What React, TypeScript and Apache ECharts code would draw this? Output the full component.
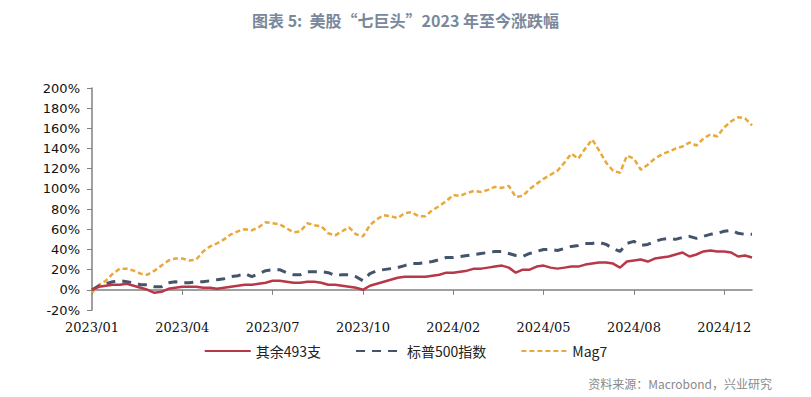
import React, { useEffect, useRef } from "react";
import * as echarts from "echarts";

const tickLabels = ["2023/01", "2023/04", "2023/07", "2023/10", "2024/02", "2024/05", "2024/08", "2024/12"];
const tickStep = 13;

const restValues = [
  0, 3, 4, 5, 5, 6, 4, 2, 0, -3, -2, 1, 2, 3, 3, 3, 2, 2, 1, 2,
  3, 4, 5, 5, 6, 7, 9, 9, 8, 7, 7, 8, 8, 7, 5, 5, 4, 3, 2, 0,
  4, 6, 8, 10, 12, 13, 13, 13, 13, 14, 15, 17, 17, 18, 19, 21, 21, 22, 23, 24,
  22, 17, 20, 20, 23, 24, 22, 21, 22, 23, 23, 25, 26, 27, 27, 26, 22, 28, 29, 30,
  28, 31, 32, 33, 35, 37, 33, 35, 38, 39, 38, 38, 37, 33, 34, 32,
];

const spxValues = [
  0, 4, 6, 8, 9, 8, 7, 5, 5, 3, 3, 7, 8, 7, 7, 8, 8, 9, 10, 11,
  13, 14, 16, 13, 16, 19, 20, 20, 17, 15, 15, 18, 18, 18, 17, 14, 15, 15, 13, 9,
  16, 19, 20, 21, 22, 24, 26, 26, 27, 28, 30, 32, 32, 33, 34, 35, 36, 37, 38, 38,
  36, 34, 33, 36, 38, 40, 40, 39, 41, 43, 44, 46, 46, 47, 45, 41, 38, 46, 48, 44,
  45, 48, 50, 51, 50, 52, 53, 51, 53, 55, 56, 58, 59, 56, 55, 55,
];

const mag7Values = [
  -3, 5, 9, 16, 21, 21, 19, 16, 15, 19, 24, 29, 31, 31, 29, 30, 38, 43, 46, 50,
  55, 58, 60, 59, 62, 67, 66, 65, 61, 57, 58, 66, 64, 63, 56, 54, 58, 62, 55, 53,
  64, 70, 74, 73, 71, 76, 77, 73, 73, 79, 83, 88, 94, 93, 96, 98, 97, 99, 102, 101,
  103, 92, 93, 100, 105, 110, 114, 118, 126, 135, 130, 140, 149, 138, 126, 118, 116, 133, 130, 119,
  124, 130, 134, 137, 140, 142, 146, 143, 150, 154, 152, 161, 167, 171, 170, 163,
];

const seriesNames = ["其余493支", "标普500指数", "Mag7"];
const categories = mag7Values.map((_, i) => String(i));

export default function App() {
  const ref = useRef<HTMLDivElement>(null);
  useEffect(() => {
    document.body.style.margin = "0";
    if (!ref.current) return;
    const chart = echarts.init(ref.current, undefined, { renderer: "svg" });
    const labelFmt = (_v: string, idx: number) =>
      idx % tickStep === 0 ? tickLabels[idx / tickStep] ?? "" : "";
    chart.setOption({
      animation: false,
      backgroundColor: "#ffffff",
      title: [
        {
          text: "图表 5:  美股“七巨头”2023 年至今涨跌幅",
          left: "center",
          top: 7,
          textStyle: {
            fontFamily: "Noto Sans CJK SC",
            fontSize: 16,
            fontWeight: 600,
            color: "#7a889c",
          },
        },
        {
          text: "资料来源：Macrobond，兴业研究",
          right: 34,
          top: 372,
          textStyle: {
            fontFamily: "Noto Sans CJK SC",
            fontSize: 12,
            fontWeight: "normal",
            color: "#8a8a8a",
          },
        },
      ],
      legend: {
        top: 339,
        left: "center",
        itemWidth: 46,
        itemHeight: 8,
        itemGap: 34,
        itemStyle: { opacity: 0 },
        textStyle: { fontFamily: "Noto Sans CJK SC", fontSize: 14, color: "#222" },
        data: seriesNames,
      },
      grid: { left: 92, right: 59, top: 88, bottom: 87, containLabel: false },
      xAxis: [
        {
          type: "category",
          data: categories,
          boundaryGap: false,
          axisLine: { onZero: true, lineStyle: { color: "#808080", width: 1.5 } },
          axisTick: { show: true, interval: tickStep - 1, length: 5, lineStyle: { color: "#808080" } },
          axisLabel: { show: false },
          splitLine: { show: false },
        },
        {
          type: "category",
          data: categories,
          boundaryGap: false,
          position: "bottom",
          axisLine: { show: false, onZero: false },
          axisTick: { show: false },
          axisLabel: {
            interval: tickStep - 1,
            formatter: labelFmt,
            fontFamily: "DejaVu Serif",
            fontSize: 13,
            color: "#111",
            margin: 11,
          },
          splitLine: { show: false },
        },
      ],
      yAxis: {
        type: "value",
        min: -20,
        max: 200,
        interval: 20,
        axisLine: { show: true, lineStyle: { color: "#808080", width: 1.5 } },
        axisTick: { show: true, length: 5, lineStyle: { color: "#808080" } },
        axisLabel: {
          formatter: "{value}%",
          fontFamily: "DejaVu Sans",
          fontSize: 13,
          color: "#111",
          margin: 12,
        },
        splitLine: { show: false },
      },
      series: [
        {
          name: seriesNames[0],
          type: "line",
          xAxisIndex: 0,
          data: restValues,
          symbol: "none",
          lineStyle: { color: "#b73848", width: 2.5, type: "solid" },
          itemStyle: { color: "#b73848" },
          z: 3,
        },
        {
          name: seriesNames[1],
          type: "line",
          xAxisIndex: 0,
          data: spxValues,
          symbol: "none",
          lineStyle: { color: "#44546a", width: 3, type: [9, 7] },
          itemStyle: { color: "#44546a" },
          z: 2,
        },
        {
          name: seriesNames[2],
          type: "line",
          xAxisIndex: 0,
          data: mag7Values,
          symbol: "none",
          lineStyle: { color: "#eaa83a", width: 2.5, type: [5, 3] },
          itemStyle: { color: "#eaa83a" },
          z: 1,
        },
      ],
    });
    return () => chart.dispose();
  }, []);
  return <div ref={ref} style={{ width: 811, height: 397 }} />;
}
